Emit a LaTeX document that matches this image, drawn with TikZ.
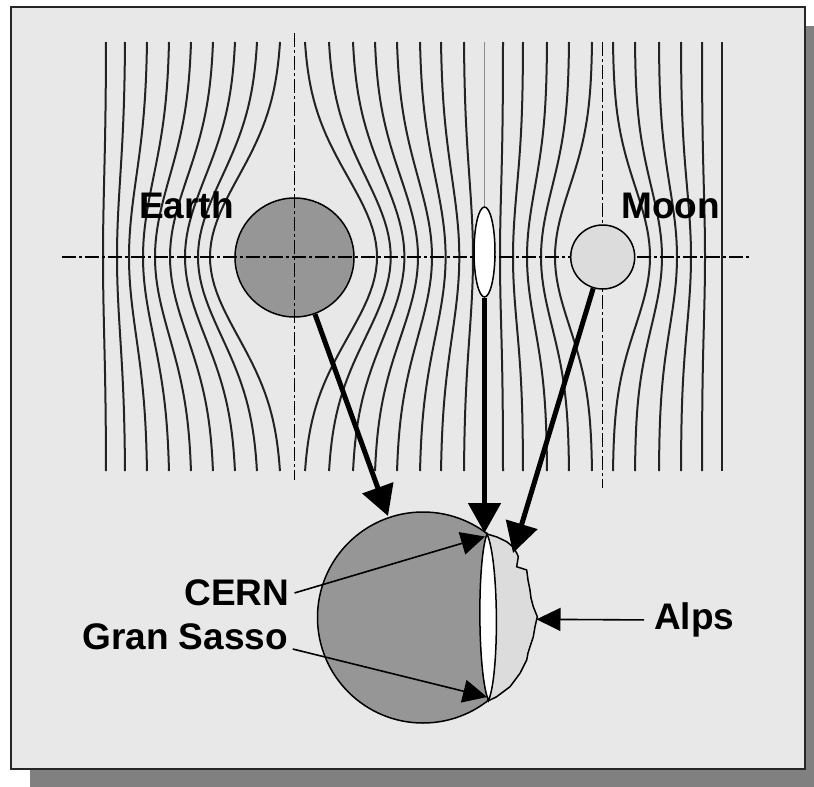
\documentclass[tikz,border=0pt]{standalone}
\usepackage{fontspec}
\setmainfont{Liberation Sans}
\usetikzlibrary{arrows.meta,shapes.geometric}

\definecolor{panel}{RGB}{232,232,232}
\definecolor{shadowgray}{RGB}{128,128,128}
\definecolor{earthgray}{RGB}{150,150,150}
\definecolor{moongray}{RGB}{220,220,220}
\definecolor{fieldink}{RGB}{35,35,35}

\tikzset{
  field/.style={draw=fieldink, line width=2pt},
  axisline/.style={draw=black, line width=1.5pt, dash pattern=on 14pt off 3pt on 3pt off 3pt},
  body/.style={circle, draw=black, line width=1.5pt, inner sep=0pt},
  bigarrow/.style={line width=5pt, -{Triangle[length=30pt,width=32pt]}},
  thinarrow/.style={line width=1.6pt, -{Triangle[length=24pt,width=23pt]}},
  tag/.style={font=\fontsize{37}{44}\selectfont\bfseries, inner sep=0pt, text=black},
}

\begin{document}
\begin{tikzpicture}[x=1pt,y=-1pt]
\useasboundingbox (0,0) rectangle (814,787);

% drop shadow and panel
\fill[shadowgray] (30,26) rectangle (830,792);
\draw[line width=2pt, draw=black!85, fill=panel] (10.5,7) rectangle (805,769);

% field lines: x at the ends / sideways shift on the axis / spread of the bend
\foreach \xt/\dd/\ss in {
    106/-3/80, 125/-8/80, 147/-18/80, 169/-26/80, 191/-36/80,
    213/-43/80, 235/-50/80, 257/-59/80, 280/-70/80,
    305/72/80, 329/61.7/80, 353/51.4/80, 375/43/80, 397/35/80,
    420/25.6/80, 441/18.3/80, 464/9/80,
    503/-3/70, 523/-10/70, 547/-20/70, 569/-28/70, 592/-37/70,
    613/37/70, 635/27/70, 659/18/70, 681/10/70, 702/3/70, 722/0/70} {
  \draw[field] plot[variable=\t, domain=42:471, samples=61]
    ({\xt+(\dd)*(exp(-0.5*((\t-257)/\ss)*((\t-257)/\ss))-exp(-0.5*(215/\ss)*(215/\ss)))
          /(1-exp(-0.5*(215/\ss)*(215/\ss)))}, {\t});
}

% Earth with its axes drawn over it
\node[body, fill=earthgray, minimum size=119pt] (earth) at (294.5,257.5) {};
\draw[axisline] (62,257) -- (750,257);
\draw[axisline] (294.5,33) -- (294.5,480);
\draw[axisline] (602.7,42) -- (602.7,488);

% Moon and the tidal bulge between them
\node[body, fill=moongray, minimum size=64pt] (moon) at (602.7,257) {};
\node[ellipse, draw=black, fill=white, line width=1.5pt, inner sep=0pt,
      minimum width=21pt, minimum height=90pt] (bulge) at (484.5,252) {};
\draw[draw=black!45, line width=1.5pt] (484.5,42) -- (bulge.north);

% globe seen in section
\coordinate (globe) at (423,617.5);
\begin{scope}
  \clip (300,500) rectangle (488,740);
  \draw[line width=1.5pt, fill=earthgray] (globe) circle[radius=105.5];
\end{scope}
\draw[line width=1.5pt, fill=moongray]
  (487,534) -- (497,537) -- (506.7,541.7) -- (512,546) -- (516.7,553) -- (518.3,556.7)
  -- (516.7,566.7) -- (526.7,570) -- (528,580) -- (530,590) -- (531,598)
  -- (533.3,606.7) -- (537.3,616.7) -- (535,626.7) -- (533.3,636.7)
  -- (530,646.7) -- (528,653) -- (526.7,660) -- (520,673.3) -- (510,686.7)
  -- (496.7,696.7) -- (489,700.5);
\draw[line width=1.5pt, fill=white]
  (487,534) .. controls (499,560) and (499.5,675) .. (488.5,700.5)
  .. controls (477.5,675) and (477,560) .. (487,534) -- cycle;

% points of arrival on the globe
\coordinate (tipE) at (388,516);
\coordinate (tipMid) at (484.5,533);
\coordinate (tipM) at (513,553);
\coordinate (tipCERN) at (485,536.5);
\coordinate (tipGS) at (487,697);
\coordinate (tipAlps) at (536.5,619.3);

\draw[bigarrow] (earth) -- (tipE);
\draw[bigarrow] (bulge) -- (tipMid);
\draw[bigarrow] (moon) -- (tipM);

% labels
\node[tag, anchor=base west] (earthlbl) at (139,218) {Earth};
\node[tag, anchor=base west] (moonlbl) at (621,218) {Moon};
\node[tag, anchor=base east, inner xsep=5pt] (cern) at (294.5,605.7) {CERN};
\node[tag, anchor=base east, inner xsep=4.5pt] (gs) at (292.7,649) {Gran Sasso};
\node[tag, anchor=base west, inner xsep=10pt] (alps) at (644,629.5) {Alps};

\draw[thinarrow] (cern.east) -- (tipCERN);
\draw[thinarrow] (gs.base east) -- (tipGS);
\draw[thinarrow] (alps.west) -- (tipAlps);
\end{tikzpicture}
\end{document}
